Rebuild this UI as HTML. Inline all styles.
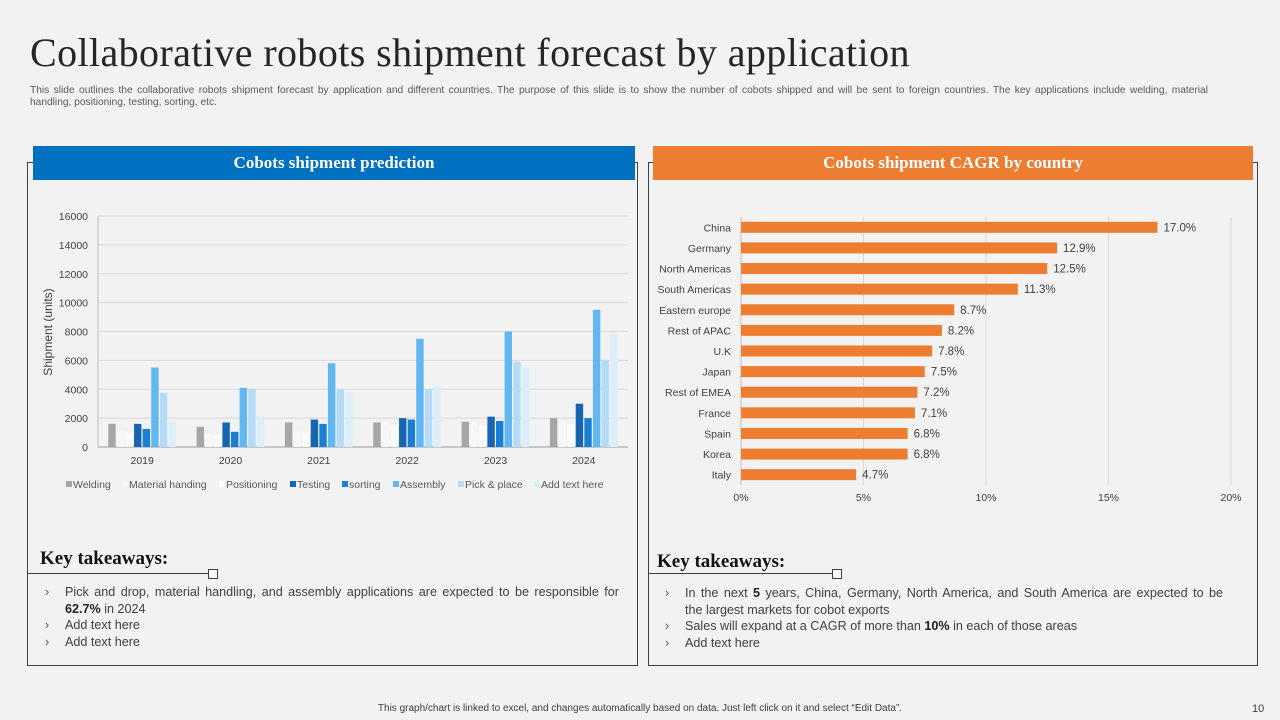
<!DOCTYPE html>
<html><head><meta charset="utf-8">
<style>
body{margin:0;width:1280px;height:720px;background:#f2f2f2;font-family:"Liberation Sans",sans-serif;position:relative;overflow:hidden;color:#404040}
.abs{position:absolute}
h1{position:absolute;left:30px;top:29px;margin:0;font-family:"Liberation Serif",serif;font-weight:normal;font-size:40px;letter-spacing:0.4px;color:#262626}
.sub{left:30px;top:85px;width:1178px;font-size:10.2px;line-height:12px;color:#595959}
.jl{display:block;text-align:justify;text-align-last:justify;white-space:nowrap}
.panel{border:1px solid #404040;box-sizing:border-box}
.hdr{color:#fff;font-family:"Liberation Serif",serif;font-weight:bold;font-size:17px;text-align:center;line-height:34px;height:34px}
.kt{font-family:"Liberation Serif",serif;font-weight:bold;font-size:19px;color:#111}
.kline{height:1px;background:#404040}
.sq{width:8px;height:8px;border:1px solid #404040;background:#fff}
ul{margin:0;padding:0;list-style:none;font-size:12.6px;line-height:16.5px;color:#404040}
li{position:relative;padding-left:25px}
li:before{content:"\203A";position:absolute;left:5px;color:#595959}
</style></head><body>
<h1>Collaborative robots shipment forecast by application</h1>
<div class="abs sub"><span class="jl" style="white-space:normal">This slide outlines the collaborative robots shipment forecast by application and different countries. The purpose of this slide is to show the number of cobots shipped and will be sent to foreign countries. The key applications include welding, material</span>handling, positioning, testing, sorting, etc.</div>

<div class="abs panel" style="left:27px;top:162px;width:611px;height:504px"></div>
<div class="abs hdr" style="left:33px;top:146px;width:602px;background:#0070c0">Cobots shipment prediction</div>
<div class="abs panel" style="left:648px;top:162px;width:610px;height:504px"></div>
<div class="abs hdr" style="left:653px;top:146px;width:600px;background:#ed7d31">Cobots shipment CAGR by country</div>

<svg class="abs" style="left:0;top:0" width="1280" height="720">
<g id="left"></g><g id="right"></g></svg>

<div class="abs kt" style="left:40px;top:548px">Key takeaways:</div>
<div class="abs kline" style="left:27px;top:573px;width:182px"></div>
<div class="abs sq" style="left:208px;top:569px"></div>
<ul class="abs" style="left:40px;top:584px;width:579px">
<li><span class="jl">Pick and drop, material handling, and assembly applications are expected to be responsible for</span><b style="color:#222">62.7%</b> in 2024</li>
<li>Add text here</li>
<li>Add text here</li></ul>

<div class="abs kt" style="left:657px;top:551px">Key takeaways:</div>
<div class="abs kline" style="left:648px;top:573px;width:185px"></div>
<div class="abs sq" style="left:832px;top:569px"></div>
<ul class="abs" style="left:660px;top:585px;width:563px">
<li><span class="jl">In the next <b style="color:#222">5</b> years, China, Germany, North America, and South America are expected to be</span>the largest markets for cobot exports</li>
<li>Sales will expand at a CAGR of more than <b style="color:#222">10%</b> in each of those areas</li>
<li>Add text here</li></ul>

<div class="abs" style="left:0;width:1280px;top:703px;text-align:center;font-size:10px;color:#404040">This graph/chart is linked to excel, and changes automatically based on data. Just left click on it and select “Edit Data”.</div>
<div class="abs" style="left:1252px;top:703px;font-size:11px;color:#404040">10</div>

<script>
const years=["2019","2020","2021","2022","2023","2024"];
const seriesNames=["Welding","Material handing","Positioning","Testing","sorting","Assembly","Pick & place","Add text here"];
const welding=[1600,1400,1700,1700,1750,2000];
const materialHandling=[1100,900,1100,1700,1700,1800];
const positioning=[1000,800,1000,1500,1500,1600];
const testing=[1600,1700,1900,2000,2100,3000];
const sorting=[1250,1050,1600,1900,1800,2000];
const assembly=[5500,4100,5800,7500,8000,9500];
const pickPlace=[3750,4000,4000,4000,5900,6000];
const addText=[1700,2100,3800,4200,5500,7800];
const yTicks=[0,2000,4000,6000,8000,10000,12000,14000,16000];
const countries=["China","Germany","North Americas","South Americas","Eastern europe","Rest of APAC","U.K","Japan","Rest of EMEA","France","Spain","Korea","Italy"];
const cagr=[17.0,12.9,12.5,11.3,8.7,8.2,7.8,7.5,7.2,7.1,6.8,6.8,4.7];
const xTicks=[0,5,10,15,20];

const NS="http://www.w3.org/2000/svg";
function mk(p,t,a,txt){const e=document.createElementNS(NS,t);for(const k in a)e.setAttribute(k,a[k]);if(txt!==undefined)e.textContent=txt;p.appendChild(e);return e;}
const L=document.getElementById('left');
const x0=98,x1=628,yb=447,yt=216;
const ys=v=>yb-(v/16000)*(yb-yt);
yTicks.forEach(t=>{
 const g=mk(L,'line',{x1:x0,x2:x1,y1:ys(t),y2:ys(t),stroke:t?'#d9d9d9':'#999','stroke-width':1});
 
 const tx=mk(L,'text',{x:88,y:ys(t)+4,'text-anchor':'end','font-size':10.5,fill:'#404040'},t);
 
});
const ax=mk(L,'line',{x1:x0,x2:x0,y1:yt,y2:yb,stroke:'#bfbfbf'});

const yl=mk(L,'text',{transform:'translate(52,332) rotate(-90)','text-anchor':'middle','font-size':12,fill:'#404040'},'Shipment (units)');

const all=[welding,materialHandling,positioning,testing,sorting,assembly,pickPlace,addText];
const cols=['#a6a6a6','#f7f7f7','#fbfbfb','#1565b0','#1a7fd4','#62b6f2','#b4dcf7','#ddeefb'];
const gw=(x1-x0)/years.length,bw=8.6;
years.forEach((y,i)=>{
 const gx=x0+i*gw+gw/2-bw*4;
 all.forEach((s,j)=>{
  const r=mk(L,'rect',{x:gx+j*bw+0.5,y:ys(s[i]),width:bw-1.2,height:yb-ys(s[i]),fill:cols[j]});
  
 });
 const t=mk(L,'text',{x:x0+i*gw+gw/2,y:464,'text-anchor':'middle','font-size':10.5,fill:'#404040'},y);
 
});
const lx=[66,122,219,290,342,393,458,534];
seriesNames.forEach((n,j)=>{
 const r=mk(L,'rect',{x:lx[j],y:481,width:6,height:6,fill:cols[j]});
 
 const t=mk(L,'text',{x:lx[j]+7,y:488,'font-size':10.5,fill:'#595959'},n);
 
});
const R=document.getElementById('right');
const rx0=741,rx1=1231,rt=217,rb=485;
const xs=v=>rx0+(v/20)*(rx1-rx0);
xTicks.forEach(t=>{
 const g=mk(R,'line',{x1:xs(t),x2:xs(t),y1:rt,y2:rb,stroke:t?'#d9d9d9':'#bfbfbf'});
 
 const tx=mk(R,'text',{x:xs(t),y:501,'text-anchor':'middle','font-size':10.5,fill:'#404040'},t+'%');
 
});
const rh=(rb-rt)/countries.length;
countries.forEach((c,i)=>{
 const cy=rt+rh*i+rh/2;
 const r=mk(R,'rect',{x:rx0,y:cy-5.5,width:xs(cagr[i])-rx0,height:11,fill:'#ed7d31'});
 
 const l=mk(R,'text',{x:731,y:cy+4,'text-anchor':'end','font-size':10.5,fill:'#404040'},c);
 
 const v=mk(R,'text',{x:xs(cagr[i])+6,y:cy+4,'font-size':11.5,fill:'#404040'},cagr[i].toFixed(1)+'%');
 
});
</script>
</body></html>
